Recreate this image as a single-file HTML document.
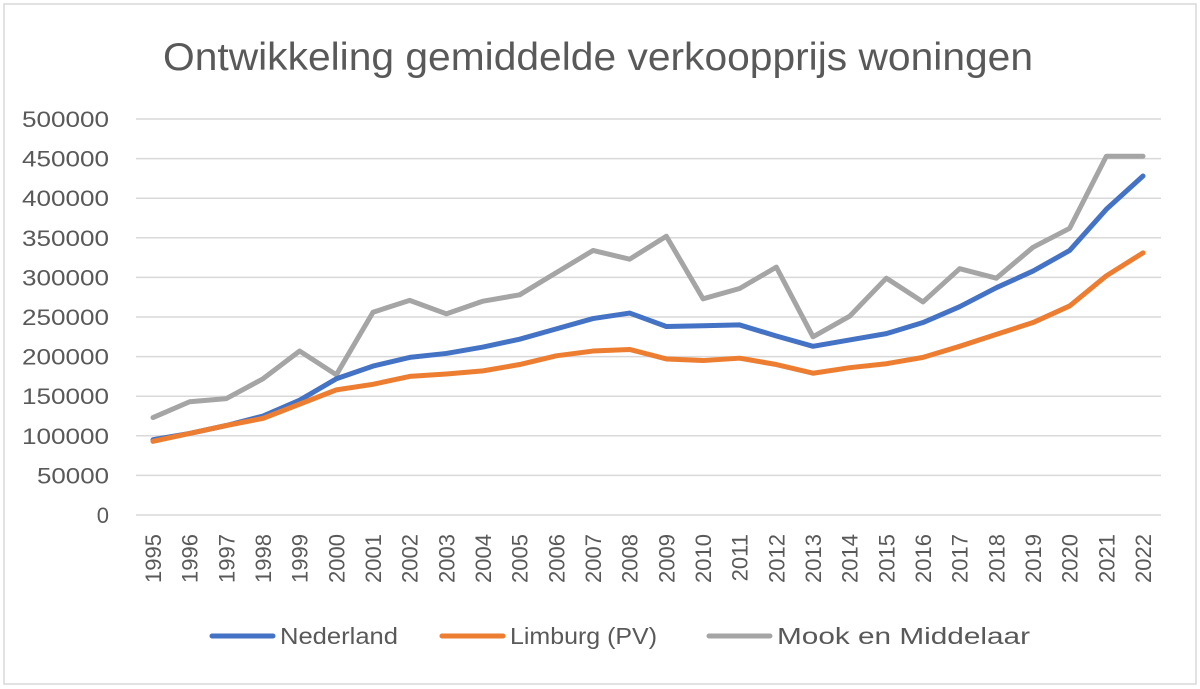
<!DOCTYPE html>
<html><head><meta charset="utf-8"><style>
html,body{margin:0;padding:0;background:#fff;}
svg{display:block;font-family:"Liberation Sans",sans-serif;}
</style></head><body>
<svg width="1200" height="689" viewBox="0 0 1200 689">
<rect x="4" y="4" width="1192" height="680" fill="#fff" stroke="#d9d9d9" stroke-width="1.5"/>
<text x="163" y="70" font-size="39" fill="#595959" textLength="870" lengthAdjust="spacingAndGlyphs">Ontwikkeling gemiddelde verkoopprijs woningen</text>
<g stroke="#d9d9d9" stroke-width="1.5">
<line x1="136" x2="1161" y1="119" y2="119"/><line x1="136" x2="1161" y1="158.6" y2="158.6"/>
<line x1="136" x2="1161" y1="198.2" y2="198.2"/><line x1="136" x2="1161" y1="237.8" y2="237.8"/>
<line x1="136" x2="1161" y1="277.4" y2="277.4"/><line x1="136" x2="1161" y1="317" y2="317"/>
<line x1="136" x2="1161" y1="356.6" y2="356.6"/><line x1="136" x2="1161" y1="396.2" y2="396.2"/>
<line x1="136" x2="1161" y1="435.8" y2="435.8"/><line x1="136" x2="1161" y1="475.4" y2="475.4"/>
<line x1="136" x2="1161" y1="515" y2="515"/>
</g>
<g font-size="22" fill="#595959">
<text x="22" y="127" textLength="87" lengthAdjust="spacingAndGlyphs">500000</text><text x="22" y="166.6" textLength="87" lengthAdjust="spacingAndGlyphs">450000</text><text x="22" y="206.2" textLength="87" lengthAdjust="spacingAndGlyphs">400000</text>
<text x="22" y="245.8" textLength="87" lengthAdjust="spacingAndGlyphs">350000</text><text x="22" y="285.4" textLength="87" lengthAdjust="spacingAndGlyphs">300000</text><text x="22" y="325" textLength="87" lengthAdjust="spacingAndGlyphs">250000</text>
<text x="22" y="364.6" textLength="87" lengthAdjust="spacingAndGlyphs">200000</text><text x="22" y="404.2" textLength="87" lengthAdjust="spacingAndGlyphs">150000</text><text x="22" y="443.8" textLength="87" lengthAdjust="spacingAndGlyphs">100000</text>
<text x="37" y="483.4" textLength="72" lengthAdjust="spacingAndGlyphs">50000</text><text x="109" y="523" text-anchor="end">0</text>
</g>
<g transform="translate(153,515) scale(36.667,-0.000792)" fill="none" stroke-linejoin="round" stroke-linecap="round">
<polyline vector-effect="non-scaling-stroke" stroke="#a5a5a5" stroke-width="5" points="0,123000 1,143000 2,147000 3,172000 4,207000 5,177000 6,256000 7,271000 8,254000 9,270000 10,278000 11,306000 12,334000 13,323000 14,352000 15,273000 16,286000 17,313000 18,225000 19,251000 20,299000 21,269000 22,311000 23,299000 24,338000 25,362000 26,453000 27,453000"/>
<polyline vector-effect="non-scaling-stroke" stroke="#4472c4" stroke-width="5" points="0,95000 1,103000 2,113000 3,125000 4,145000 5,172000 6,188000 7,199000 8,204000 9,212000 10,222000 11,235000 12,248000 13,255000 14,238000 15,239000 16,240000 17,226000 18,213000 19,221000 20,229000 21,243000 22,263000 23,287000 24,308000 25,334000 26,386000 27,428000"/>
<polyline vector-effect="non-scaling-stroke" stroke="#ed7d31" stroke-width="5" points="0,93000 1,103000 2,113000 3,122000 4,140000 5,158000 6,165000 7,175000 8,178000 9,182000 10,190000 11,201000 12,207000 13,209000 14,197000 15,195000 16,198000 17,190000 18,179000 19,186000 20,191000 21,199000 22,213000 23,228000 24,243000 25,264000 26,302000 27,331000"/>
</g>
<g font-size="23" fill="#595959">
<line x1="212" x2="273" y1="636" y2="636" stroke="#4472c4" stroke-width="5" stroke-linecap="round"/>
<text x="280" y="644" textLength="118" lengthAdjust="spacingAndGlyphs">Nederland</text>
<line x1="442" x2="503" y1="636" y2="636" stroke="#ed7d31" stroke-width="5" stroke-linecap="round"/>
<text x="510" y="644" textLength="147" lengthAdjust="spacingAndGlyphs">Limburg (PV)</text>
<line x1="709" x2="770" y1="636" y2="636" stroke="#a5a5a5" stroke-width="5" stroke-linecap="round"/>
<text x="777" y="644" textLength="253" lengthAdjust="spacingAndGlyphs">Mook en Middelaar</text>
</g>
<g font-size="22" fill="#595959" text-anchor="end">
<text transform="translate(161,534) rotate(-90)">1995</text>
<text transform="translate(197.7,534) rotate(-90)">1996</text>
<text transform="translate(234.3,534) rotate(-90)">1997</text>
<text transform="translate(271,534) rotate(-90)">1998</text>
<text transform="translate(307.7,534) rotate(-90)">1999</text>
<text transform="translate(344.3,534) rotate(-90)">2000</text>
<text transform="translate(381,534) rotate(-90)">2001</text>
<text transform="translate(417.7,534) rotate(-90)">2002</text>
<text transform="translate(454.3,534) rotate(-90)">2003</text>
<text transform="translate(491,534) rotate(-90)">2004</text>
<text transform="translate(527.7,534) rotate(-90)">2005</text>
<text transform="translate(564.3,534) rotate(-90)">2006</text>
<text transform="translate(601,534) rotate(-90)">2007</text>
<text transform="translate(637.7,534) rotate(-90)">2008</text>
<text transform="translate(674.3,534) rotate(-90)">2009</text>
<text transform="translate(711,534) rotate(-90)">2010</text>
<text transform="translate(747.7,534) rotate(-90)">2011</text>
<text transform="translate(784.3,534) rotate(-90)">2012</text>
<text transform="translate(821,534) rotate(-90)">2013</text>
<text transform="translate(857.7,534) rotate(-90)">2014</text>
<text transform="translate(894.3,534) rotate(-90)">2015</text>
<text transform="translate(931,534) rotate(-90)">2016</text>
<text transform="translate(967.7,534) rotate(-90)">2017</text>
<text transform="translate(1004.3,534) rotate(-90)">2018</text>
<text transform="translate(1041,534) rotate(-90)">2019</text>
<text transform="translate(1077.7,534) rotate(-90)">2020</text>
<text transform="translate(1114.3,534) rotate(-90)">2021</text>
<text transform="translate(1151,534) rotate(-90)">2022</text>
</g>
</svg>
</body></html>
